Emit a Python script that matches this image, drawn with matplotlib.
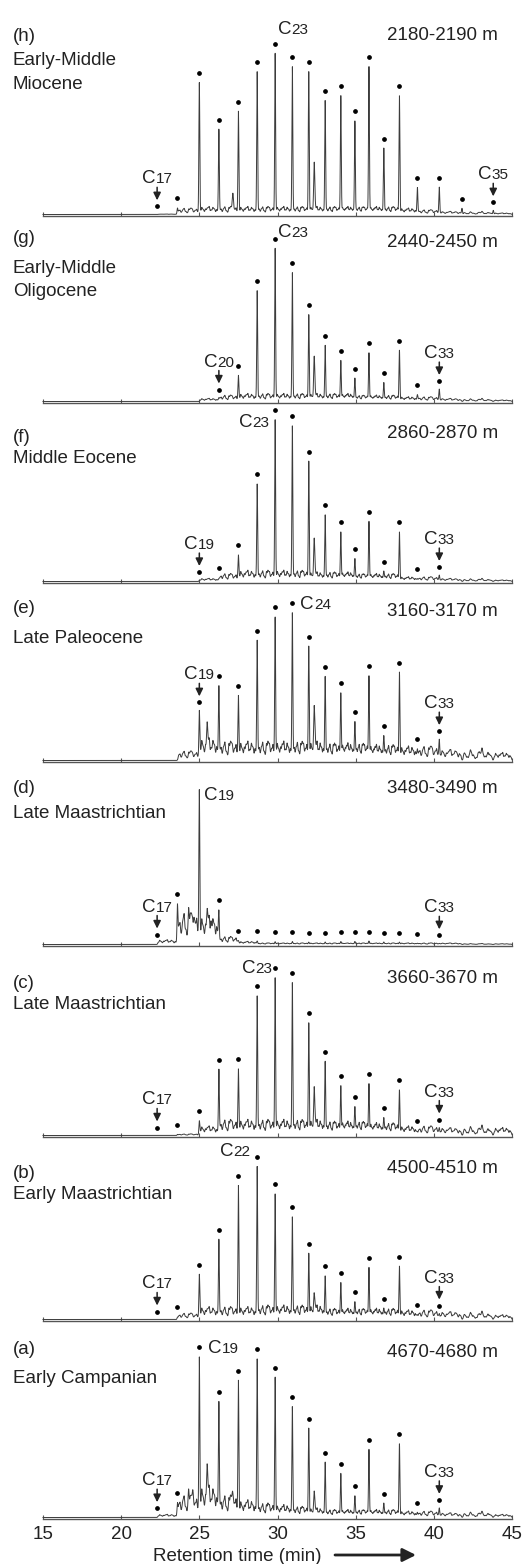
import numpy as np
import matplotlib
matplotlib.use("Agg")
import matplotlib.pyplot as plt

plt.rcParams["font.family"] = ["Liberation Sans", "DejaVu Sans"]

W, H, DPI = 529, 1564, 100
TXT = "#222222"

# n-alkane retention times (min), C17 ... C35
carbon = list(range(17, 36))
rt = [22.3, 23.6, 25.0, 26.25, 27.5, 28.7, 29.85, 30.95, 32.0, 33.05,
      34.05, 34.95, 35.85, 36.8, 37.8, 38.95, 40.35, 41.8, 43.8]

panels = ["h", "g", "f", "e", "d", "c", "b", "a"]
depths = ["2180-2190 m", "2440-2450 m", "2860-2870 m", "3160-3170 m",
          "3480-3490 m", "3660-3670 m", "4500-4510 m", "4670-4680 m"]
ages = [["Early-Middle", "Miocene"], ["Early-Middle", "Oligocene"],
        ["Middle Eocene"], ["Late Paleocene"], ["Late Maastrichtian"],
        ["Late Maastrichtian"], ["Early Maastrichtian"], ["Early Campanian"]]

# n-alkane peak heights above local baseline, C17 ... C35
alk_h = [0, 6, 131, 84, 102, 141, 160, 146, 141, 112, 117, 91, 146, 64, 117, 26, 27, 6, 4]
alk_g = [0, 0, 0, 3, 25, 109, 152, 127, 85, 54, 39, 21, 47, 17, 50, 6, 12, 0, 0]
alk_f = [0, 0, 1, 2, 25, 95, 160, 153, 118, 64, 47, 20, 58, 8, 48, 2, 6, 0, 0]
alk_e = [0, 0, 48, 71, 62, 116, 140, 143, 110, 79, 63, 33, 80, 20, 85, 9, 20, 0, 0]
alk_d = [0, 38, 151, 31, 3, 3, 2.5, 2.5, 2, 2, 2.5, 2.5, 3, 2, 2, 1, 1, 0, 0]
alk_c = [0, 1, 14, 64, 64, 136, 155, 149, 109, 70, 46, 24, 48, 14, 43, 2, 7, 0, 0]
alk_b = [0, 2, 44, 78, 132, 150, 123, 99, 63, 40, 34, 14, 49, 8, 51, 3, 5, 0, 0]
alk_a = [0, 13, 157, 111, 134, 155, 138, 108, 87, 53, 42, 19, 66, 12, 72, 4, 9, 0, 0]

# unresolved background level between consecutive n-alkanes (C17-C18 ... C35-end)
ucm_h = [0.3, 4, 5, 5, 5, 5, 5, 5, 5, 5, 5, 5, 5, 5, 4, 3, 2, 1.5, 1]
ucm_g = [0, 0, 2, 4, 5, 5, 5, 5, 5, 5, 5, 4, 4, 4, 3, 3, 2, 1.5, 1]
ucm_f = [0, 0, 2, 5, 7, 7, 7, 7, 6, 6, 6, 5, 5, 5, 3, 3, 2, 1.5, 1]
ucm_e = [0, 6, 14, 12, 12, 12, 12, 12, 12, 11, 11, 11, 10, 10, 9, 9, 7, 6, 5]
ucm_d = [3, 20, 18, 5, 2, 1, 1, 1, 1, 1, 1, 1, 1, 1, 1, 1, 1, 0.5, 0.5]
ucm_c = [0, 1, 6, 10, 10, 10, 10, 10, 10, 9, 9, 9, 8, 8, 6, 6, 5, 5, 5]
ucm_b = [0, 4, 8, 8, 8, 9, 9, 9, 9, 7, 7, 7, 7, 7, 6, 6, 5, 4, 3]
ucm_a = [2, 14, 20, 14, 11, 9, 8, 7, 6, 5, 5, 5, 5, 5, 4, 4, 3, 3, 2]

# other resolved peaks (time, height)
ext_h = [(27.15, 17), (32.35, 47)]
ext_g = [(32.35, 40)]
ext_f = [(32.35, 37)]
ext_e = [(25.5, 20), (32.35, 42)]
ext_d = [(24.3, 10), (24.65, 14), (25.5, 12), (25.75, 7)]
ext_c = [(32.35, 38)]
ext_b = [(32.35, 17)]
ext_a = [(24.3, 10), (24.6, 14), (25.5, 27), (27.15, 12), (32.35, 20)]

# which n-alkanes carry a marker, which get arrows, which is named
dots = [range(17, 36), range(20, 34), range(19, 34), range(19, 34),
        [17, 18] + list(range(20, 34)), range(17, 34), range(17, 34), range(17, 34)]
arrows = [[17, 35], [20, 33], [19, 33], [19, 33], [17, 33], [17, 33], [17, 33], [17, 33]]
named = [23, 23, 23, 24, 19, 23, 22, 19]

alk = [alk_h, alk_g, alk_f, alk_e, alk_d, alk_c, alk_b, alk_a]
ucm = [ucm_h, ucm_g, ucm_f, ucm_e, ucm_d, ucm_c, ucm_b, ucm_a]
ext = [ext_h, ext_g, ext_f, ext_e, ext_d, ext_c, ext_b, ext_a]

# minor peak pattern inside each n-alkane interval (broad floor + fine grass)
MINOR_FRAC = [0.08, 0.17, 0.27, 0.36, 0.46, 0.55, 0.64, 0.74, 0.83, 0.92]
MINOR_REL_A = [0.8, 1.5, 0.6, 1.2, 1.9, 0.7, 1.1, 1.6, 0.5, 1.0]
MINOR_REL_B = [1.2, 0.6, 1.7, 0.9, 0.5, 1.4, 2.0, 0.7, 1.3, 0.8]
GRASS_FRAC = [0.05, 0.12, 0.22, 0.31, 0.4, 0.51, 0.59, 0.69, 0.79, 0.88, 0.96]
GRASS_REL = [0.4, 0.9, 0.3, 0.7, 0.5, 1.0, 0.35, 0.8, 0.45, 0.6, 0.3]

# layout (figure pixels from top)
AX_Y = [216, 403, 583, 762, 946, 1137, 1321, 1519]
LETTER_Y = [41, 243, 442, 613, 793, 988, 1178, 1354]
AGE_Y = [[65, 89], [273, 296], [463], [643], [818], [1009], [1199], [1383]]
DEPTH_Y = [40, 247, 438, 616, 793, 983, 1173, 1357]
# named label: side, dx px, baseline dy px (relative to marker)
NAME_POS = [("left", 3, 10), ("left", 3, 1.5), ("right", -6, -16.5), ("left", 8, -5.5),
            ("left", 5, -10.5), ("right", -3, -4.5), ("right", -7, 0.5), ("left", 9, -5.5)]

AX_L, AX_W, AX_H = 43, 469, 180
PX_PER_MIN = AX_W / 30.0
FLOOR = 1.5
SIG_ALK = 0.028
SIG_MINOR = 0.055
SIG_GRASS = 0.025
FS_BIG, FS_SUB = 13.5, 11
C_W = 0.722 * FS_BIG * DPI / 72
D_W = 0.556 * FS_SUB * DPI / 72

T = np.arange(15.0, 45.0001, 0.004)


def gauss(c, s):
    return np.exp(-0.5 * ((T - c) / s) ** 2)


def build_trace(heights, levels, extras):
    y = np.full_like(T, FLOOR)
    for i in range(len(rt)):
        t0 = rt[i]
        t1 = rt[i + 1] if i + 1 < len(rt) else 45.0
        rel = MINOR_REL_A if i % 2 == 0 else MINOR_REL_B
        d = (t1 - t0) / len(MINOR_FRAC)
        scale = 0.8 * levels[i] * d / (SIG_MINOR * np.sqrt(2 * np.pi) * np.mean(rel))
        for f, r in zip(MINOR_FRAC, rel):
            y += scale * r * gauss(t0 + f * (t1 - t0), SIG_MINOR)
        # sharp grass spikes on top of the hump
        for f, r in zip(GRASS_FRAC, GRASS_REL[::(1 if i % 2 == 0 else -1)]):
            y += 0.6 * levels[i] * r * gauss(t0 + f * (t1 - t0), SIG_GRASS)
    for t, h in zip(rt, heights):
        y += h * gauss(t, SIG_ALK)
    for t, h in extras:
        y += h * gauss(t, SIG_ALK * 1.3)
    return y


def carbon_label(ax, x_left, y_base, n):
    ax.text(x_left, y_base, "C", fontsize=FS_BIG, ha="left", va="baseline",
            color=TXT, clip_on=False)
    ax.text(x_left + C_W / PX_PER_MIN, y_base, str(n), fontsize=FS_SUB,
            ha="left", va="baseline", color=TXT, clip_on=False)


fig = plt.figure(figsize=(W / DPI, H / DPI), dpi=DPI)

for k, p in enumerate(panels):
    ax = fig.add_axes([AX_L / W, 1 - AX_Y[k] / H, AX_W / W, AX_H / H])
    ax.set_xlim(15, 45)
    ax.set_ylim(0, AX_H)
    for s in ["top", "left", "right"]:
        ax.spines[s].set_visible(False)
    ax.spines["bottom"].set_color("#555555")
    ax.spines["bottom"].set_linewidth(1.0)
    ax.set_yticks([])
    ax.set_xticks(np.arange(15, 46, 5))
    ax.tick_params(axis="x", direction="in", length=3, width=0.8, color="#555555",
                   labelsize=FS_BIG, labelcolor=TXT, pad=5)
    if k < len(panels) - 1:
        ax.set_xticklabels([])
    ax.patch.set_alpha(0)

    y = build_trace(alk[k], ucm[k], ext[k])
    ax.plot(T, y, color="#3c3c3c", lw=0.7, clip_on=False)

    def top_at(c):
        t = rt[carbon.index(c)]
        m = (T > t - 0.06) & (T < t + 0.06)
        return t, y[m].max()

    for c in dots[k]:
        t, top = top_at(c)
        off = 8 if c in arrows[k] else 9.5
        ax.plot(t, top + off, "o", ms=2.4, color="black", clip_on=False)

    for c in arrows[k]:
        t, top = top_at(c)
        dot = top + 8
        ax.annotate("", xy=(t, dot + 6), xytext=(t, dot + 19),
                    arrowprops=dict(arrowstyle="-|>,head_length=0.45,head_width=0.22",
                                    lw=1.1, color=TXT, shrinkA=0, shrinkB=0),
                    annotation_clip=False)
        width = C_W + D_W * len(str(c))
        carbon_label(ax, t - width / 2 / PX_PER_MIN, dot + 23, c)

    c = named[k]
    t, top = top_at(c)
    ref = top + 9.5 if c in dots[k] else top
    side, dx, dy = NAME_POS[k]
    width = C_W + D_W * len(str(c))
    left = t + dx / PX_PER_MIN if side == "left" else t + (dx - width) / PX_PER_MIN
    carbon_label(ax, left, ref + dy, c)

    fig.text(13 / W, 1 - LETTER_Y[k] / H, f"({p})", fontsize=FS_BIG,
             ha="left", va="baseline", color=TXT)
    for line, yy in zip(ages[k], AGE_Y[k]):
        fig.text(13 / W, 1 - yy / H, line, fontsize=FS_BIG,
                 ha="left", va="baseline", color=TXT)
    fig.text(498 / W, 1 - DEPTH_Y[k] / H, depths[k], fontsize=FS_BIG,
             ha="right", va="baseline", color=TXT)

fig.text(237 / W, 1 - 1561 / H, "Retention time (min)", fontsize=FS_BIG,
         ha="center", va="baseline", color=TXT)
fig.add_artist(matplotlib.patches.FancyArrowPatch(
    (335, H - 1555), (416, H - 1555), transform=None,
    arrowstyle="-|>,head_length=8,head_width=4", lw=2, color=TXT,
    shrinkA=0, shrinkB=0))

fig.savefig("out.png", dpi=DPI)
